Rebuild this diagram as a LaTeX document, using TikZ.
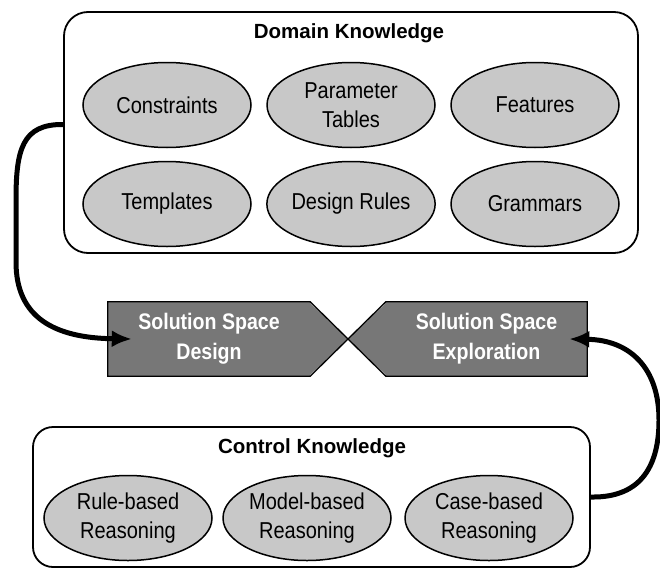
\documentclass[tikz,border=0pt]{standalone}
\usepackage{fontspec}
\setmainfont{Liberation Sans}
\newfontfamily\narrowsans[FakeStretch=0.87]{Liberation Sans}
\usetikzlibrary{shapes.geometric,arrows.meta}
\definecolor{elgray}{RGB}{200,200,200}
\definecolor{solgray}{RGB}{119,119,119}
\tikzset{
  kbox/.style={draw=black, line width=1.8pt, rounded corners=24pt, inner sep=0pt},
  ktitle/.style={font=\fontsize{20.5pt}{28pt}\selectfont\bfseries, inner sep=0pt},
  blob/.style={ellipse, draw=black, line width=1.5pt, fill=elgray, inner sep=0pt,
    minimum width=168pt, minimum height=85pt, align=center,
    font=\narrowsans\fontsize{23pt}{29.5pt}\selectfont},
  solbody/.style={fill=solgray, inner sep=0pt, minimum height=74pt, align=center,
    text=white, font=\narrowsans\fontsize{22.5pt}{30pt}\selectfont\bfseries},
  soledge/.style={draw=black, line width=1.3pt, line join=miter},
  flow/.style={line width=5pt, -{Latex[length=20pt,width=17pt]}}
}
\begin{document}
\begin{tikzpicture}[x=1pt,y=-1pt]
\useasboundingbox (0,0) rectangle (660,570);
% Domain knowledge
\node[kbox, minimum width=574pt, minimum height=241pt] (dom) at (351,132.5) {};
\node[ktitle] (domt) at (349,33) {Domain Knowledge};
\node[blob] (cons) at (167,105) {Constraints};
\node[blob] (param) at (351,105) {Parameter\\Tables};
\node[blob] (feat) at (535,105) {Features};
\node[blob] (templ) at (167,204) {Templates};
\node[blob] (drules) at (351,204) {Design Rules};
\node[blob] (gram) at (535,204) {Grammars};
% Control knowledge
\node[kbox, rounded corners=20pt, minimum width=557pt, minimum height=140pt] (ctl) at (311.5,497) {};
\node[ktitle] (ctlt) at (312,448) {Control Knowledge};
\node[blob] (rule) at (128,518) {Rule-based\\Reasoning};
\node[blob] (model) at (307,518) {Model-based\\Reasoning};
\node[blob] (case) at (489,518) {Case-based\\Reasoning};
% Solution space shapes
\coordinate (mid) at (348,339);
\fill[solgray] (310,303) -- (mid) -- (310,375) -- cycle;
\fill[solgray] (386,303) -- (mid) -- (386,375) -- cycle;
\node[solbody, minimum width=202pt] (dsgn) at (209,339) {Solution Space\\Design};
\node[solbody, minimum width=201pt] (expl) at (486.5,339) {Solution Space\\Exploration};
\draw[soledge] (dsgn.north west) -- (dsgn.north east) -- (mid) -- (dsgn.south east) -- (dsgn.south west) -- cycle;
\draw[soledge] (expl.north east) -- (expl.north west) -- (mid) -- (expl.south west) -- (expl.south east) -- cycle;
% Connectors
\draw[flow] ([yshift=8pt]dom.west) .. controls (22,124) and (16,150) .. (16,200)
  -- (16,262) .. controls (16,318) and (55,338) .. ([xshift=24pt]dsgn.west);
\draw[flow] (ctl.east) .. controls (644,498) and (659,462) .. (659,420)
  .. controls (659,368) and (630,340) .. ([xshift=-18pt]expl.east);
\end{tikzpicture}
\end{document}
